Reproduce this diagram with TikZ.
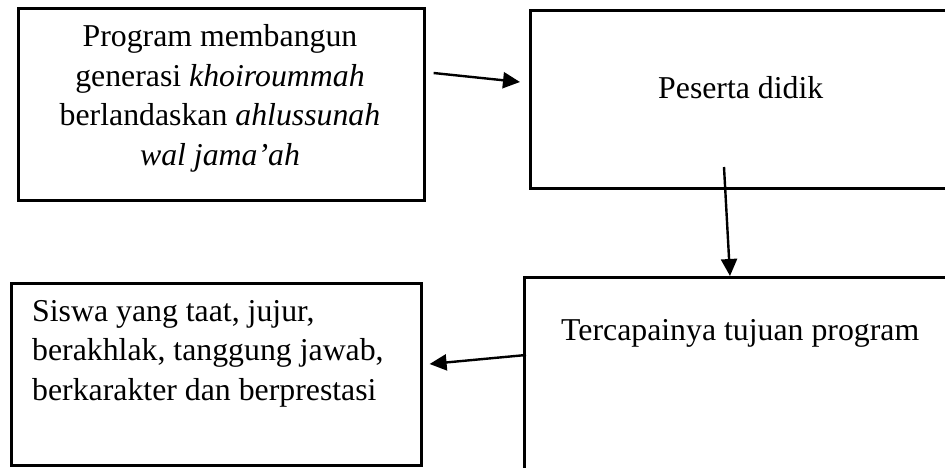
\documentclass[tikz,border=0pt]{standalone}
\usepackage{fontspec}
\setmainfont{Liberation Serif}
\usetikzlibrary{arrows.meta}
\tikzset{
  box/.style={draw=black, line width=2.6pt, inner sep=0pt, anchor=north west},
  txt/.style={inner sep=0pt, font=\fontsize{31.8}{39.5}\selectfont},
  arr/.style={line width=2.4pt, -{Triangle[length=17pt,width=16pt]}},
}
\begin{document}
\begin{tikzpicture}[x=1pt,y=-1pt]
\useasboundingbox (0,0) rectangle (945,467);
\clip (0,0) rectangle (945,467);
% boxes
\node[box, minimum width=406pt, minimum height=192pt] (A) at (17,7) {};
\node[box, minimum width=440pt, minimum height=178pt] (B) at (529,9) {};
\node[box, minimum width=440pt, minimum height=220pt] (C) at (523,276) {};
\node[box, minimum width=410pt, minimum height=182pt] (D) at (10,282) {};
% texts
\node[txt, align=center, anchor=base] (tA) at (220,165)
  {Program membangun\\generasi \textit{khoiroummah}\\berlandaskan \textit{ahlussunah}\\\textit{wal jama'ah}};
\node[txt, anchor=base west] (tB) at (658,98) {Peserta didik};
\node[txt, anchor=base west] (tC) at (561,340) {Tercapainya tujuan program};
\node[txt, align=left, anchor=base west] (tD) at (32,400)
  {Siswa yang taat, jujur,\\berakhlak, tanggung jawab,\\berkarakter dan berprestasi};
% connectors
\draw[arr] ([shift={(8,66)}]A.north east) -- ([shift={(-9,73)}]B.north west);
\draw[arr] ([shift={(195,158)}]B.north west) -- ([shift={(207,0)}]C.north west);
\draw[arr] ([shift={(3,79)}]C.north west) -- ([shift={(7,82)}]D.north east);
\end{tikzpicture}
\end{document}
